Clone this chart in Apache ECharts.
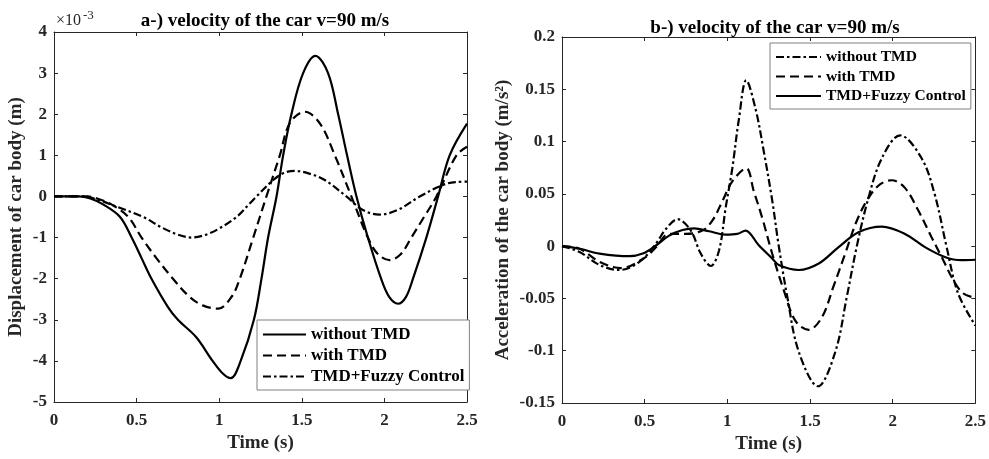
<!DOCTYPE html>
<html>
<head>
<meta charset="utf-8">
<script src="https://cdn.jsdelivr.net/npm/echarts@6/dist/echarts.min.js"></script>
<style>
  html, body { margin: 0; padding: 0; background: #fff; }
  #chart { width: 989px; height: 459px; }
</style>
</head>
<body>
<div id="chart"></div>
<script>
// panel a: displacement (x1e-3 m), [time s, value]
const dispWithout = [[0,0],[0.15,0],[0.22,-0.05],[0.30,-0.2],[0.40,-0.5],[0.47,-1.0],[0.53,-1.5],[0.59,-2.0],[0.69,-2.69],[0.75,-3.0],[0.86,-3.42],[0.96,-4.0],[1.02,-4.3],[1.07,-4.42],[1.13,-4.0],[1.21,-3.0],[1.256,-2.0],[1.296,-1.0],[1.347,0],[1.387,1.0],[1.437,2.0],[1.508,3.0],[1.583,3.42],[1.659,3.0],[1.72,2.0],[1.774,1.0],[1.831,0],[1.90,-1.0],[1.98,-2.0],[2.03,-2.45],[2.083,-2.61],[2.13,-2.45],[2.173,-2.0],[2.254,-1.0],[2.325,0],[2.395,1.0],[2.5,1.77]]
const dispWith = [[0,0],[0.2,0],[0.26,-0.05],[0.35,-0.2],[0.45,-0.5],[0.53,-1.0],[0.62,-1.5],[0.72,-2.0],[0.82,-2.44],[0.9,-2.65],[0.994,-2.73],[1.075,-2.44],[1.125,-2.0],[1.206,-1.0],[1.286,0],[1.367,1.0],[1.427,1.78],[1.518,2.06],[1.609,1.78],[1.70,1.0],[1.80,0],[1.90,-1.0],[1.96,-1.4],[2.032,-1.55],[2.10,-1.4],[2.163,-1.0],[2.24,-0.5],[2.315,0],[2.436,1.0],[2.5,1.21]]
const dispFuzzy = [[0,0],[0.18,0],[0.28,-0.1],[0.38,-0.25],[0.54,-0.5],[0.65,-0.75],[0.75,-0.93],[0.833,-1.0],[0.92,-0.93],[1.0,-0.78],[1.105,-0.5],[1.185,-0.17],[1.226,0],[1.327,0.40],[1.39,0.57],[1.458,0.62],[1.55,0.55],[1.639,0.40],[1.77,0],[1.87,-0.33],[1.97,-0.44],[2.08,-0.33],[2.214,0],[2.355,0.28],[2.43,0.35],[2.5,0.36]]

// panel b: acceleration (m/s^2)
const accWithout = [[0,0],[0.106,-0.0056],[0.227,-0.018],[0.347,-0.0228],[0.468,-0.015],[0.568,0.0023],[0.628,0.0164],[0.699,0.0258],[0.779,0.0149],[0.839,-0.0071],[0.90,-0.019],[0.95,-0.004],[0.99,0.037],[1.03,0.0745],[1.07,0.1216],[1.114,0.1586],[1.171,0.131],[1.221,0.09],[1.271,0.044],[1.311,0],[1.362,-0.048],[1.432,-0.101],[1.548,-0.134],[1.653,-0.101],[1.723,-0.048],[1.783,0],[1.853,0.046],[1.934,0.084],[2.045,0.106],[2.175,0.084],[2.255,0.049],[2.325,0],[2.395,-0.045],[2.5,-0.076]]
const accWith = [[0,0],[0.106,-0.0025],[0.227,-0.015],[0.357,-0.021],[0.508,-0.0103],[0.568,-0.001],[0.648,0.0117],[0.749,0.0117],[0.849,0.0149],[0.909,0.0243],[0.97,0.043],[1.03,0.062],[1.114,0.0745],[1.16,0.0525],[1.211,0.027],[1.271,-0.007],[1.341,-0.042],[1.412,-0.0715],[1.492,-0.08],[1.572,-0.068],[1.642,-0.0385],[1.713,-0.007],[1.783,0.0243],[1.853,0.046],[1.923,0.059],[1.994,0.063],[2.074,0.0557],[2.155,0.034],[2.235,0.0086],[2.295,-0.01],[2.365,-0.032],[2.425,-0.045],[2.5,-0.0495]]
const accFuzzy = [[0,0],[0.106,-0.0025],[0.227,-0.0071],[0.408,-0.0096],[0.488,-0.0071],[0.568,0.0006],[0.648,0.0101],[0.729,0.0154],[0.799,0.017],[0.89,0.0142],[0.99,0.011],[1.06,0.0117],[1.11,0.0149],[1.19,0.0008],[1.271,-0.0118],[1.311,-0.018],[1.432,-0.0228],[1.553,-0.0166],[1.673,-0.0009],[1.793,0.0133],[1.934,0.0186],[2.074,0.0117],[2.195,-0.0009],[2.315,-0.0103],[2.415,-0.0134],[2.5,-0.013]]

const legendNames = ['without TMD', 'with TMD', 'TMD+Fuzzy Control']
const titles = ['a-) velocity of the car v=90 m/s', 'b-) velocity of the car v=90 m/s']

const FONT = '"Liberation Serif", "Times New Roman", serif'
const AX = '#262626'
const SOLID = 'solid'
const DASH = [9, 5]
const DASHDOT = [8, 3, 2.5, 3]

function xAxes(grid, top) {
  return {
    type: 'value', gridIndex: grid, min: 0, max: 2.5, interval: 0.5,
    position: top ? 'top' : 'bottom',
    name: top ? '' : 'Time (s)', nameLocation: 'middle', nameGap: 32,
    nameTextStyle: { fontFamily: FONT, fontWeight: 'bold', fontSize: 19, color: AX },
    axisLine: { onZero: false, lineStyle: { color: AX, width: 1 } },
    axisTick: { inside: true, length: 4, lineStyle: { color: AX } },
    axisLabel: { show: !top, margin: 10, fontFamily: FONT, fontWeight: 'bold', fontSize: 17, color: AX },
    splitLine: { show: false },
  }
}

function yAxes(grid, right, min, max, interval, name, gap) {
  return {
    type: 'value', gridIndex: grid, min, max, interval,
    position: right ? 'right' : 'left',
    name: right ? '' : name, nameLocation: 'middle', nameGap: gap, nameRotate: 90,
    nameTextStyle: { fontFamily: FONT, fontWeight: 'bold', fontSize: 19, color: AX },
    axisLine: { onZero: false, lineStyle: { color: AX, width: 1 } },
    axisTick: { inside: true, length: 4, lineStyle: { color: AX } },
    axisLabel: { show: !right, margin: 7, fontFamily: FONT, fontWeight: 'bold', fontSize: 17, color: AX },
    splitLine: { show: false },
  }
}

function line(name, data, type, idx) {
  return {
    name, type: 'line', data, xAxisIndex: idx, yAxisIndex: idx,
    symbol: 'none', smooth: 0.35,
    lineStyle: { color: '#000', width: 2.2, type },
    itemStyle: { color: '#000' },
  }
}

function legend(prefix, left, top, w, fs, gap) {
  return {
    data: legendNames.map((n) => prefix + n),
    formatter: (n) => n.slice(2),
    orient: 'vertical', left, top, itemWidth: w, itemHeight: 14, itemGap: gap,
    padding: [6, 5, 5, 5], backgroundColor: '#fff', borderColor: '#808080', borderWidth: 1,
    selectedMode: false,
    itemStyle: { opacity: 0 },
    textStyle: { fontFamily: FONT, fontWeight: 'bold', fontSize: fs, color: '#000' },
  }
}

const chart = echarts.init(document.getElementById('chart'))
chart.setOption({
  animation: false,
  backgroundColor: '#fff',
  title: [
    { text: titles[0], left: 260, top: 7, textAlign: 'center', textStyle: { fontFamily: FONT, fontWeight: 'bold', fontSize: 19, color: '#000' } },
    { text: titles[1], left: 770, top: 14, textAlign: 'center', textStyle: { fontFamily: FONT, fontWeight: 'bold', fontSize: 19, color: '#000' } },
  ],
  grid: [
    { left: 54, top: 32, width: 413, height: 370 },
    { left: 562, top: 37, width: 415, height: 371 },
  ],
  xAxis: [xAxes(0, false), xAxes(1, false), xAxes(0, true), xAxes(1, true)],
  yAxis: [
    yAxes(0, false, -5, 4, 1, 'Displacement of car body (m)', 28),
    yAxes(1, false, -0.15, 0.2, 0.05, 'Acceleration of the car body (m/s²)', 49),
    yAxes(0, true, -5, 4, 1),
    yAxes(1, true, -0.15, 0.2, 0.05),
  ],
  legend: [
    legend('a:', 257, 320, 43, 17, 4),
    legend('b:', 770, 43, 45, 15.5, 3.5),
  ],
  graphic: [
    { type: 'text', left: 56, top: 13, style: { text: '×10', fontFamily: FONT, fontSize: 16, fill: AX } },
    { type: 'text', left: 83, top: 9, style: { text: '-3', fontFamily: FONT, fontSize: 13, fill: AX } },
  ],
  series: [
    line('a:without TMD', dispWithout, SOLID, 0),
    line('a:with TMD', dispWith, DASH, 0),
    line('a:TMD+Fuzzy Control', dispFuzzy, DASHDOT, 0),
    line('b:without TMD', accWithout, DASHDOT, 1),
    line('b:with TMD', accWith, DASH, 1),
    line('b:TMD+Fuzzy Control', accFuzzy, SOLID, 1),
  ],
})
</script>
</body>
</html>
